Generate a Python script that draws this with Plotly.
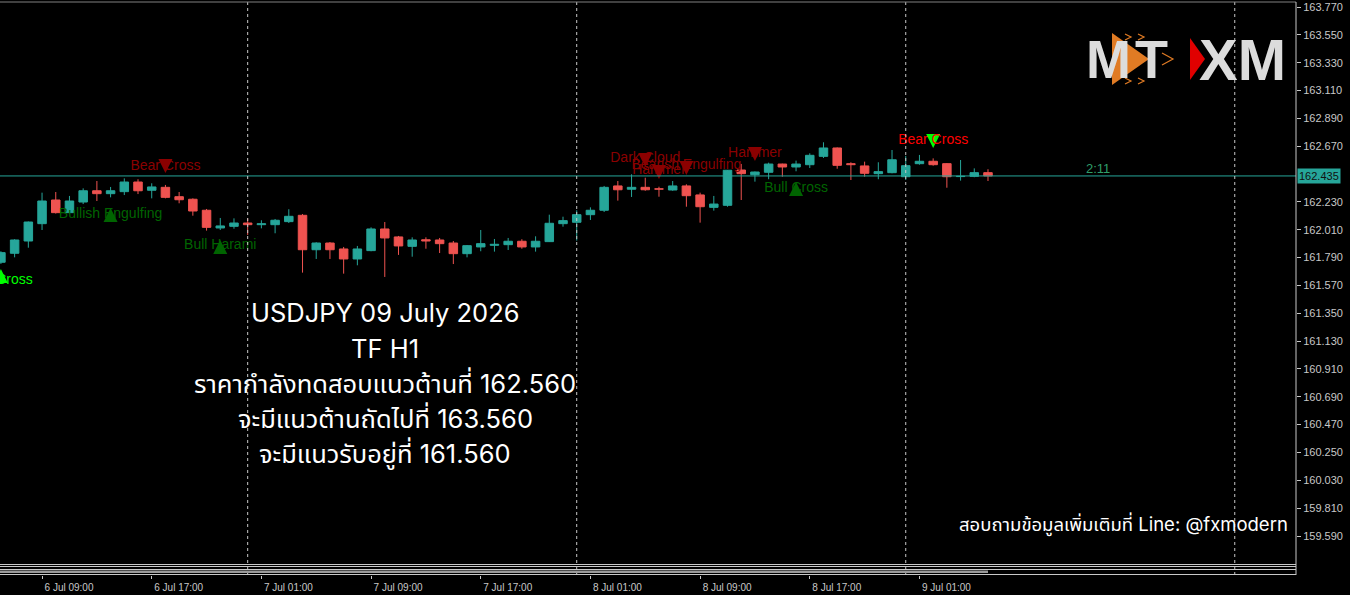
import pandas as pd
import plotly.graph_objects as go

# Données : bougies H1 USDJPY
times = pd.date_range("2026-07-06 06:00", periods=73, freq="h")

opens = [161.753, 161.824, 161.921, 162.058, 162.245, 162.145, 162.229, 162.318, 162.295, 162.311,
         162.387, 162.322, 162.345, 162.271, 162.251, 162.164, 162.024, 162.037, 162.063, 162.050,
         162.050, 162.074, 162.124, 161.852, 161.905, 161.858, 161.779, 161.845, 162.016, 161.953,
         161.879, 161.931, 161.929, 161.905, 161.821, 161.874, 161.887, 161.892, 161.919, 161.874,
         161.916, 162.058, 162.069, 162.129, 162.164, 162.356, 162.330, 162.345, 162.334, 162.324,
         162.356, 162.285, 162.187, 162.203, 162.482, 162.445, 162.464, 162.529, 162.506, 162.524,
         162.590, 162.656, 162.532, 162.514, 162.453, 162.461, 162.429, 162.532, 162.551, 162.532,
         162.430, 162.432, 162.461]
highs = [161.840, 161.935, 162.075, 162.303, 162.308, 162.277, 162.337, 162.395, 162.348, 162.416,
         162.409, 162.377, 162.364, 162.308, 162.258, 162.174, 162.103, 162.100, 162.100, 162.085,
         162.095, 162.172, 162.134, 161.911, 161.913, 161.874, 161.882, 162.029, 162.071, 161.961,
         161.950, 161.950, 161.945, 161.921, 161.889, 162.008, 161.937, 161.945, 161.935, 161.958,
         162.129, 162.113, 162.164, 162.187, 162.356, 162.395, 162.448, 162.421, 162.350, 162.395,
         162.369, 162.303, 162.277, 162.482, 162.530, 162.470, 162.540, 162.532, 162.556, 162.614,
         162.701, 162.660, 162.543, 162.548, 162.543, 162.640, 162.593, 162.601, 162.574, 162.535,
         162.561, 162.495, 162.488]
lows = [161.740, 161.792, 161.868, 162.008, 162.138, 162.140, 162.213, 162.237, 162.266, 162.284,
        162.292, 162.258, 162.258, 162.219, 162.121, 162.003, 162.008, 162.018, 161.969, 162.021,
        161.982, 162.063, 161.671, 161.779, 161.779, 161.663, 161.729, 161.840, 161.637, 161.811,
        161.797, 161.860, 161.826, 161.739, 161.792, 161.840, 161.837, 161.850, 161.860, 161.837,
        161.914, 162.034, 161.924, 162.087, 162.150, 162.240, 162.269, 162.318, 162.271, 162.318,
        162.192, 162.066, 162.161, 162.192, 162.245, 162.390, 162.409, 162.429, 162.472, 162.498,
        162.577, 162.492, 162.403, 162.429, 162.409, 162.456, 162.403, 162.524, 162.516, 162.342,
        162.398, 162.425, 162.395]
closes = [161.829, 161.929, 162.071, 162.237, 162.145, 162.237, 162.318, 162.295, 162.318, 162.387,
          162.318, 162.348, 162.266, 162.247, 162.158, 162.029, 162.040, 162.063, 162.050, 162.058,
          162.085, 162.116, 161.852, 161.905, 161.852, 161.779, 161.858, 162.016, 161.945, 161.882,
          161.929, 161.921, 161.900, 161.821, 161.884, 161.900, 161.895, 161.919, 161.874, 161.919,
          162.061, 162.082, 162.129, 162.164, 162.345, 162.326, 162.345, 162.326, 162.330, 162.356,
          162.279, 162.192, 162.213, 162.480, 162.453, 162.466, 162.529, 162.506, 162.529, 162.598,
          162.656, 162.519, 162.524, 162.456, 162.469, 162.563, 162.516, 162.551, 162.524, 162.429,
          162.433, 162.461, 162.435]

current_price = 162.435
timer_text = "2:11"

# Signaux (figures de chandeliers)
sig_idx = [0, 8, 12, 16, 47, 48, 50, 55, 58, 68]
sig_text = ["Bull Cross", "Bullish Engulfing", "Bear Cross", "Bull Harami", "Dark Cloud",
            "Hammer", "Bearish Engulfing", "Hammer", "Bull Cross", "Bear Cross"]
sig_text_y = [161.605, 162.127, 162.506, 161.882, 162.569, 162.482, 162.514, 162.616, 162.332, 162.719]
sig_arrow_y = [161.700, 162.182, 162.458, 161.929, 162.506, 162.411, 162.442, 162.553, 162.387, 162.656]
sig_dir = ["up", "up", "down", "up", "down", "down", "down", "down", "up", "down"]
sig_text_color = ["#00ff00", "#006400", "#8b0000", "#006400", "#8b0000",
                  "#8b0000", "#8b0000", "#8b0000", "#006400", "#ff0000"]
sig_arrow_color = ["#00ff00", "#006400", "#8b0000", "#006400", "#8b0000",
                   "#8b0000", "#8b0000", "#8b0000", "#006400", "#00ff00"]

price_ticks = [163.770, 163.550, 163.330, 163.110, 162.890, 162.670, 162.230, 162.010, 161.790,
               161.570, 161.350, 161.130, 160.910, 160.690, 160.470, 160.250, 160.030, 159.810, 159.590]
tick_times = ["2026-07-06 09:00", "2026-07-06 17:00", "2026-07-07 01:00", "2026-07-07 09:00",
              "2026-07-07 17:00", "2026-07-08 01:00", "2026-07-08 09:00", "2026-07-08 17:00",
              "2026-07-09 01:00"]
day_breaks = ["2026-07-07 00:00", "2026-07-08 00:00", "2026-07-09 00:00", "2026-07-10 00:00"]

info_lines = ["USDJPY 09 July 2026", "TF H1",
              "ราคากำลังทดสอบแนวต้านที่ 162.560",
              "จะมีแนวต้านถัดไปที่ 163.560",
              "จะมีแนวรับอยู่ที่ 161.560"]
contact = "สอบถามข้อมูลเพิ่มเติมที่ Line: @fxmodern"

BULL = "#26a69a"
BEAR = "#ef5350"
AXIS = "#c8c8c8"
MT_FONT = "Liberation Sans, Arial, sans-serif"
THAI_FONT = "Inter, Noto Sans Thai, Noto Sans, sans-serif"
HOUR_MS = 3600 * 1000


# pixel -> coordonnées papier (zone de tracé : x 0..1296, y 2..575)
def px(x):
    return x / 1296


def py(y):
    return (575 - y) / 573


fig = go.Figure()

# Bougies : mèches (lignes) puis corps (barres), par couleur
for up, color in [(True, BULL), (False, BEAR)]:
    idx = [i for i in range(len(times)) if (closes[i] >= opens[i]) == up]
    wx, wy = [], []
    for i in idx:
        wx += [times[i], times[i], None]
        wy += [lows[i], highs[i], None]
    fig.add_trace(go.Scatter(x=wx, y=wy, mode="lines", line=dict(color=color, width=1),
                             showlegend=False, hoverinfo="skip"))
    fig.add_trace(go.Bar(
        x=[times[i] for i in idx],
        base=[min(opens[i], closes[i]) for i in idx],
        y=[abs(closes[i] - opens[i]) for i in idx],
        width=0.62 * HOUR_MS,
        marker=dict(color=color, line=dict(color=color, width=1)),
        showlegend=False, hoverinfo="skip",
    ))

sig_times = [times[i] for i in sig_idx]
fig.add_trace(go.Scatter(
    x=sig_times, y=sig_arrow_y, mode="markers",
    marker=dict(symbol=["arrow-up" if d == "up" else "arrow-down" for d in sig_dir],
                size=14, color=sig_arrow_color, line=dict(width=0)),
    showlegend=False, hoverinfo="skip",
))
fig.add_trace(go.Scatter(
    x=sig_times, y=sig_text_y, mode="text", text=sig_text,
    textfont=dict(family=MT_FONT, size=14, color=sig_text_color),
    showlegend=False, hoverinfo="skip",
))

shapes = []
# ligne de prix actuel
shapes.append(dict(type="line", xref="paper", x0=0, x1=1, yref="y", y0=current_price, y1=current_price,
                   line=dict(color=BULL, width=1)))
# séparateurs de jours
for d in day_breaks:
    shapes.append(dict(type="line", xref="x", x0=d, x1=d, yref="paper", y0=0, y1=1,
                       line=dict(color=AXIS, width=1, dash="3px,3px")))
# bordures
shapes.append(dict(type="line", xref="paper", x0=0, x1=1, yref="paper", y0=py(2), y1=py(2),
                   line=dict(color="#808080", width=1)))
shapes.append(dict(type="line", xref="paper", x0=1, x1=1, yref="paper", y0=0, y1=py(2),
                   line=dict(color=AXIS, width=1)))
# petite fenêtre d'indicateur en bas
for yy in [564.5, 566.5, 569.5, 574.5]:
    shapes.append(dict(type="line", xref="paper", x0=0, x1=1, yref="paper", y0=py(yy), y1=py(yy),
                       line=dict(color=AXIS, width=1)))
shapes.append(dict(type="rect", xref="paper", x0=0, x1=px(988), yref="paper", y0=py(573), y1=py(570.5),
                   fillcolor="#9a9a9a", line=dict(width=0)))

# logo MT XM
shapes.append(dict(type="path", xref="paper", yref="paper",
                   path=f"M {px(1112)} {py(33)} L {px(1112)} {py(85)} L {px(1149)} {py(59)} Z",
                   fillcolor="#e07b24", line=dict(width=0), layer="above"))
for (x0, y0, x1, y1, x2, y2) in [(1125, 34, 1125, 40, 1131, 37), (1138, 34, 1138, 40, 1144, 37),
                                  (1125, 78, 1125, 84, 1131, 81), (1138, 78, 1138, 84, 1144, 81),
                                  (1162, 53, 1162, 65, 1173, 59)]:
    shapes.append(dict(type="path", xref="paper", yref="paper",
                       path=f"M {px(x0)} {py(y0)} L {px(x2)} {py(y2)} L {px(x1)} {py(y1)}",
                       line=dict(color="#e07b24", width=1.2), layer="above"))
shapes.append(dict(type="path", xref="paper", yref="paper",
                   path=f"M {px(1190)} {py(38)} L {px(1190)} {py(80)} L {px(1205)} {py(59)} Z",
                   fillcolor="#e00000", line=dict(width=0), layer="above"))

annotations = []
for i, line in enumerate(info_lines):
    annotations.append(dict(xref="paper", yref="paper", x=px(385), y=py(313 + 35 * i), text=line,
                            showarrow=False, xanchor="center", yanchor="middle",
                            font=dict(family=THAI_FONT, size=25.5, color="white")))
annotations.append(dict(xref="paper", yref="paper", x=px(1290), y=py(524), text=contact,
                        showarrow=False, xanchor="right", yanchor="middle",
                        font=dict(family=THAI_FONT, size=18.5, color="white")))
annotations.append(dict(xref="x", yref="y", x="2026-07-09 14:00", y=current_price, text=timer_text,
                        showarrow=False, xanchor="center", yanchor="bottom", yshift=-2,
                        font=dict(family=MT_FONT, size=13, color="#2f9e6a")))
annotations.append(dict(xref="paper", yref="y", x=1, y=current_price, text=f"{current_price:.3f}",
                        showarrow=False, xanchor="left", yanchor="middle", xshift=1,
                        bgcolor=BULL, borderpad=1,
                        font=dict(family=MT_FONT, size=11, color="#111111")))
annotations.append(dict(xref="paper", yref="paper", x=px(1108), y=py(59), text="<b>M</b>",
                        showarrow=False, xanchor="center", yanchor="middle",
                        font=dict(family=MT_FONT, size=54, color="#dcdcdc")))
annotations.append(dict(xref="paper", yref="paper", x=px(1151), y=py(59), text="<b>T</b>",
                        showarrow=False, xanchor="center", yanchor="middle",
                        font=dict(family=MT_FONT, size=54, color="#dcdcdc")))
annotations.append(dict(xref="paper", yref="paper", x=px(1242), y=py(59), text="<b>XM</b>",
                        showarrow=False, xanchor="center", yanchor="middle",
                        font=dict(family=MT_FONT, size=58, color="#dcdcdc")))

fig.update_layout(
    width=1350, height=595,
    margin=dict(l=0, r=54, t=2, b=20),
    paper_bgcolor="black", plot_bgcolor="black",
    shapes=shapes, annotations=annotations,
    showlegend=False, barmode="overlay",
    xaxis=dict(
        type="date", range=["2026-07-06 05:56", "2026-07-10 04:28"],
        anchor="free", position=0,
        tickvals=tick_times, tickformat="%-d %b %H:%M",
        ticks="outside", ticklen=3, tickcolor=AXIS, ticklabelshift=27,
        tickfont=dict(family=MT_FONT, size=10, color=AXIS),
        showgrid=False, zeroline=False, showline=False,
    ),
    yaxis=dict(
        domain=[py(563), 1], range=[159.3767, 163.8095], side="right",
        tickvals=price_ticks, tickformat=".3f",
        ticks="outside", ticklen=4, tickcolor=AXIS,
        tickfont=dict(family=MT_FONT, size=11, color=AXIS),
        showgrid=False, zeroline=False, showline=False,
    ),
)

# la page s'affiche sans la marge par défaut du navigateur
fig.write_html("out.html", config={"displayModeBar": False},
               post_script="document.body.style.margin='0';")
